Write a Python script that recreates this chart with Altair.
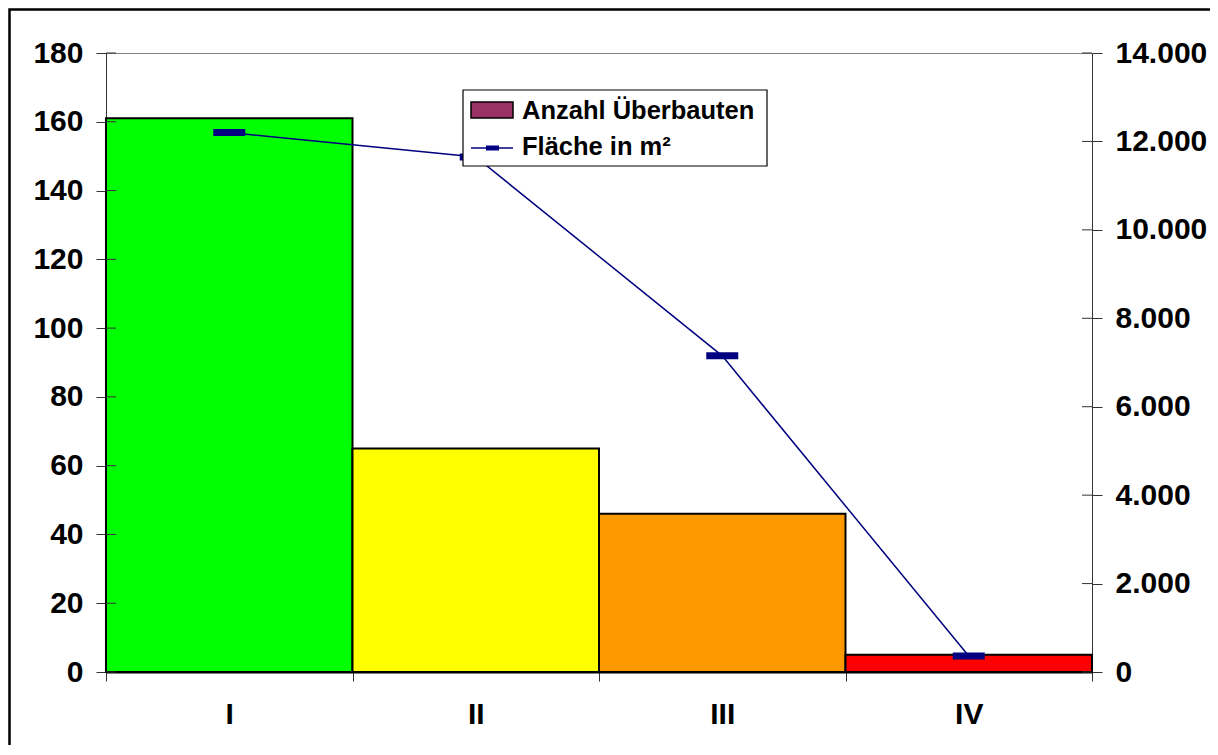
import altair as alt
import pandas as pd

# Data
categories = ["I", "II", "III", "IV"]
anzahl = [161, 65, 46, 5]
flaeche = [12200, 11650, 7150, 360]
bar_colors = ["#00FF00", "#FFFF00", "#FF9900", "#FF0000"]
legend_labels = ["Anzahl Überbauten", "Fläche in m²"]
left_ticks = [0, 20, 40, 60, 80, 100, 120, 140, 160, 180]
right_ticks = [0, 2000, 4000, 6000, 8000, 10000, 12000, 14000]

df = pd.DataFrame({"cat": categories, "anzahl": anzahl, "flaeche": flaeche})

FONT = "Liberation Sans"
W, H = 986, 619
LBL = 30

x_enc = alt.X(
    "cat:N",
    sort=categories,
    scale=alt.Scale(paddingInner=0, paddingOuter=0),
    axis=alt.Axis(
        title=None, labelAngle=0, tickBand="extent", tickSize=9,
        labelFont=FONT, labelFontSize=LBL, labelFontWeight="bold", labelColor="black",
        labelPadding=18, domainColor="black", domainWidth=2, tickColor="#333333",
        grid=False,
    ),
)

left_scale = alt.Scale(domain=[0, 180], nice=False)
bars = alt.Chart(df).mark_bar(stroke="black", strokeWidth=2).encode(
    x=x_enc,
    y=alt.Y(
        "anzahl:Q",
        scale=left_scale,
        axis=alt.Axis(
            title=None, values=left_ticks, orient="left", tickSize=10,
            labelFont=FONT, labelFontSize=LBL, labelFontWeight="bold", labelColor="black",
            labelPadding=13, domainColor="#333333", tickColor="#333333", grid=False,
        ),
    ),
    color=alt.Color("cat:N", scale=alt.Scale(domain=categories, range=bar_colors), legend=None),
)
left_inner = alt.Chart(pd.DataFrame({"v": left_ticks})).mark_rule(color="#333333", strokeWidth=1).encode(
    x=alt.value(0), x2=alt.value(10), y=alt.Y("v:Q")
)
left_layer = alt.layer(bars, left_inner)

y_right = alt.Y(
    "flaeche:Q",
    scale=alt.Scale(domain=[0, 14000], nice=False),
    axis=alt.Axis(
        title=None, values=right_ticks, orient="right", tickSize=10,
        labelFont=FONT, labelFontSize=LBL, labelFontWeight="bold", labelColor="black",
        labelPadding=13, domainColor="#333333", tickColor="#333333", grid=False,
        labelExpr="replace(format(datum.value, ','), ',', '.')",
    ),
)

line = alt.Chart(df).mark_line(color="#000080", strokeWidth=1.5).encode(
    x=alt.X("cat:N", sort=categories), y=y_right
)
ticks = alt.Chart(df).mark_tick(color="#000080", size=32, thickness=7, opacity=1).encode(
    x=alt.X("cat:N", sort=categories), y=alt.Y("flaeche:Q")
)
right_inner = alt.Chart(pd.DataFrame({"flaeche": right_ticks})).mark_rule(color="#333333", strokeWidth=1).encode(
    x=alt.value(W - 10), x2=alt.value(W), y=alt.Y("flaeche:Q")
)
right_layer = alt.layer(line, ticks, right_inner)

one = alt.Data(values=[{"a": 0}])

legend_box = alt.Chart(one).mark_rect(fill="white", stroke="black", strokeWidth=1.2).encode(
    x=alt.value(357), x2=alt.value(661), y=alt.value(37), y2=alt.value(113)
)
legend_swatch = alt.Chart(one).mark_rect(fill="#993366", stroke="black", strokeWidth=1.5).encode(
    x=alt.value(365), x2=alt.value(407), y=alt.value(49), y2=alt.value(65)
)
legend_line = alt.Chart(one).mark_rule(color="#000080", strokeWidth=1.5).encode(
    x=alt.value(365), x2=alt.value(407), y=alt.value(95)
)
legend_mark = alt.Chart(one).mark_rect(fill="#000080").encode(
    x=alt.value(380), x2=alt.value(393), y=alt.value(92.5), y2=alt.value(97.5)
)
leg_df = pd.DataFrame({"label": legend_labels, "row": [0, 1]})
legend_text = alt.Chart(leg_df).mark_text(
    align="left", baseline="alphabetic", font=FONT, fontSize=25.5, fontWeight="bold", color="black"
).encode(
    x=alt.value(416),
    y=alt.Y("row:Q", scale=alt.Scale(domain=[0, 1], range=[66, 102]), axis=None),
    text="label:N",
)

frame = alt.Chart(one).mark_rect(fill="transparent", stroke="black", strokeWidth=2.5).encode(
    x=alt.value(-96.5), x2=alt.value(1300), y=alt.value(-43.5), y2=alt.value(900)
)

chart = (
    alt.layer(left_layer, right_layer, legend_box, legend_swatch, legend_line, legend_mark, legend_text, frame)
    .resolve_scale(y="independent", color="independent")
    .properties(
        width=W, height=H,
        autosize=alt.AutoSizeParams(type="none"),
        padding={"left": 98, "top": 45, "right": 118, "bottom": 73},
        background="white",
    )
    .configure_view(stroke="#808080", strokeWidth=1)
)

chart.save("out.html", embed_options={"renderer": "svg", "actions": False})
